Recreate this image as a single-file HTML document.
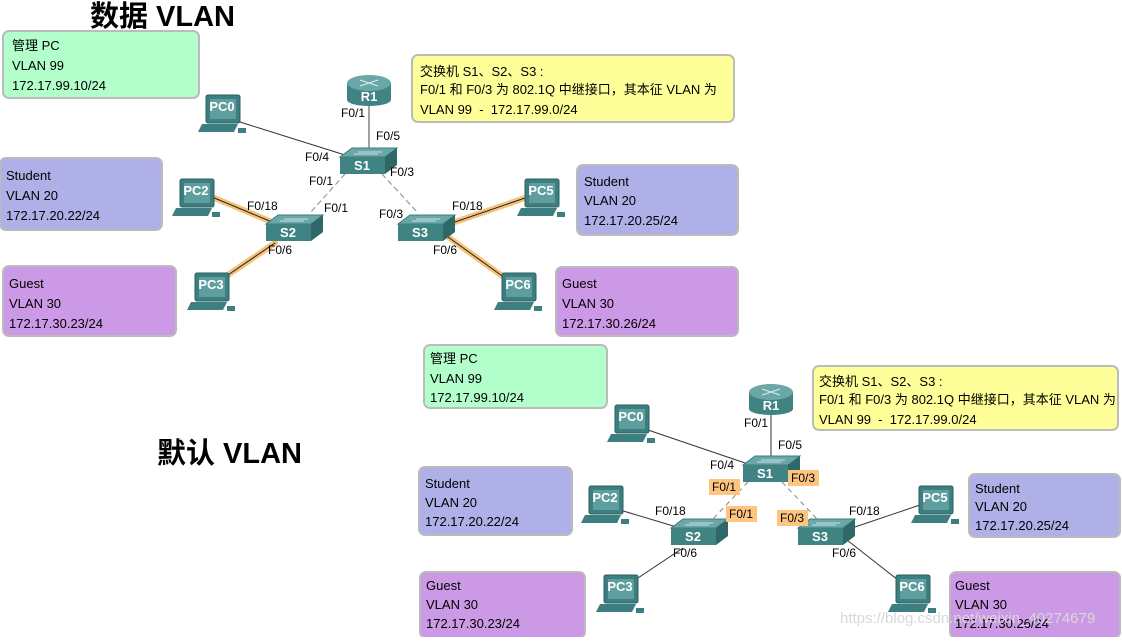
<!DOCTYPE html>
<html><head><meta charset="utf-8"><style>
body{margin:0;background:#fff;width:1122px;height:637px;overflow:hidden}
svg text{font-family:"Liberation Sans","Noto Sans CJK SC",sans-serif}
.b{font-size:13px;fill:#000}
.l{font-size:12px;fill:#000}
.d{font-size:13px;font-weight:bold;fill:#fff;text-anchor:middle}
.t{font-size:29px;font-weight:bold;fill:#000}
</style></head><body>
<svg width="1122" height="637" viewBox="0 0 1122 637" xmlns="http://www.w3.org/2000/svg">
<defs>
<g id="pc">
<rect x="-18" y="-15" width="34" height="28" rx="2" fill="#3d7f80" stroke="#2a5f60"/>
<rect x="-14" y="-11" width="26" height="20" fill="#5e9e9e"/>
<polygon points="-22,14 14,14 10,22 -26,22" fill="#3d7f80"/>
<rect x="14" y="18" width="8" height="5" fill="#3d7f80"/>
</g>
<g id="sw">
<polygon points="-24,-8 -12,-17 33,-17 21,-8" fill="#6aa7a6" stroke="#3f7c7c"/>
<rect x="-24" y="-8" width="45" height="17" fill="#3f8483"/>
<polygon points="21,-8 33,-17 33,0 21,9" fill="#2f6868"/>
<line x1="-6" y1="-13" x2="18" y2="-13" stroke="#cde" stroke-width="1"/>
<line x1="-10" y1="-11" x2="14" y2="-11" stroke="#cde" stroke-width="1"/>
</g>
<g id="r1">
<rect x="-22" y="-6" width="44" height="17" fill="#3f8483"/>
<ellipse cx="0" cy="11" rx="22" ry="6" fill="#3f8483"/>
<ellipse cx="0" cy="-6" rx="22" ry="8" fill="#6aa7a6"/>
<line x1="-9" y1="-9" x2="9" y2="-3" stroke="#dee"/><line x1="9" y1="-9" x2="-9" y2="-3" stroke="#dee"/>
</g>
</defs>

<!-- TOP DIAGRAM -->
<text x="90" y="26" class="t">数据 VLAN</text>
<rect x="3" y="31" width="196" height="67" rx="6" fill="#b3ffcc" stroke="#bbb" stroke-width="2"/>
<text x="12" y="50" class="b">管理 PC</text><text x="12" y="70" class="b">VLAN 99</text><text x="12" y="90" class="b">172.17.99.10/24</text>
<rect x="0" y="158" width="162" height="72" rx="6" fill="#b0b0e8" stroke="#bbb" stroke-width="2"/>
<text x="6" y="180" class="b">Student</text><text x="6" y="200" class="b">VLAN 20</text><text x="6" y="220" class="b">172.17.20.22/24</text>
<rect x="3" y="266" width="173" height="70" rx="6" fill="#cc99e6" stroke="#bbb" stroke-width="2"/>
<text x="9" y="288" class="b">Guest</text><text x="9" y="308" class="b">VLAN 30</text><text x="9" y="328" class="b">172.17.30.23/24</text>
<rect x="412" y="55" width="322" height="67" rx="6" fill="#ffff99" stroke="#bbb" stroke-width="2"/>
<text x="420" y="76" class="b">交换机 S1、S2、S3 :</text><text x="420" y="94" class="b">F0/1 和 F0/3 为 802.1Q 中继接口，其本征 VLAN 为</text><text x="420" y="114" class="b" xml:space="preserve">VLAN 99  -  172.17.99.0/24</text>
<rect x="577" y="165" width="161" height="70" rx="6" fill="#b0b0e8" stroke="#bbb" stroke-width="2"/>
<text x="584" y="186" class="b">Student</text><text x="584" y="205" class="b">VLAN 20</text><text x="584" y="225" class="b">172.17.20.25/24</text>
<rect x="556" y="267" width="182" height="69" rx="6" fill="#cc99e6" stroke="#bbb" stroke-width="2"/>
<text x="562" y="288" class="b">Guest</text><text x="562" y="308" class="b">VLAN 30</text><text x="562" y="328" class="b">172.17.30.26/24</text>

<g stroke-linecap="round">
<line x1="369" y1="102" x2="369" y2="148" stroke="#444"/>
<line x1="240" y1="122" x2="345" y2="155" stroke="#333"/>
<line x1="345" y1="174" x2="310" y2="213" stroke="#888" stroke-dasharray="5,4"/>
<line x1="382" y1="174" x2="418" y2="213" stroke="#888" stroke-dasharray="5,4"/>
<g stroke="#f5c27a" stroke-width="6">
<line x1="212" y1="197" x2="272" y2="222"/><line x1="275" y1="243" x2="225" y2="277"/>
<line x1="455" y1="222" x2="525" y2="198"/><line x1="448" y1="237" x2="505" y2="278"/></g>
<g stroke="#222" stroke-width="1">
<line x1="212" y1="197" x2="272" y2="222"/><line x1="275" y1="243" x2="225" y2="277"/>
<line x1="455" y1="222" x2="525" y2="198"/><line x1="448" y1="237" x2="505" y2="278"/></g>
</g>
<use href="#r1" x="369" y="89"/><text x="369" y="101" class="d">R1</text>
<use href="#sw" x="364" y="165"/><text x="362" y="170" class="d">S1</text>
<use href="#sw" x="290" y="232"/><text x="288" y="237" class="d">S2</text>
<use href="#sw" x="422" y="232"/><text x="420" y="237" class="d">S3</text>
<use href="#pc" x="224" y="110"/><text x="222" y="111" class="d">PC0</text>
<use href="#pc" x="198" y="194"/><text x="196" y="195" class="d">PC2</text>
<use href="#pc" x="213" y="288"/><text x="211" y="289" class="d">PC3</text>
<use href="#pc" x="543" y="194"/><text x="541" y="195" class="d">PC5</text>
<use href="#pc" x="520" y="288"/><text x="518" y="289" class="d">PC6</text>
<text x="341" y="117" class="l">F0/1</text><text x="376" y="140" class="l">F0/5</text>
<text x="305" y="161" class="l">F0/4</text><text x="390" y="176" class="l">F0/3</text>
<text x="309" y="185" class="l">F0/1</text><text x="247" y="210" class="l">F0/18</text>
<text x="324" y="212" class="l">F0/1</text><text x="268" y="254" class="l">F0/6</text>
<text x="379" y="218" class="l">F0/3</text><text x="452" y="210" class="l">F0/18</text>
<text x="433" y="254" class="l">F0/6</text>

<!-- BOTTOM DIAGRAM -->
<text x="157" y="463" class="t">默认 VLAN</text>
<rect x="424" y="345" width="183" height="63" rx="6" fill="#b3ffcc" stroke="#bbb" stroke-width="2"/>
<text x="430" y="363" class="b">管理 PC</text><text x="430" y="383" class="b">VLAN 99</text><text x="430" y="402" class="b">172.17.99.10/24</text>
<rect x="419" y="467" width="153" height="68" rx="6" fill="#b0b0e8" stroke="#bbb" stroke-width="2"/>
<text x="425" y="488" class="b">Student</text><text x="425" y="507" class="b">VLAN 20</text><text x="425" y="526" class="b">172.17.20.22/24</text>
<rect x="420" y="572" width="165" height="66" rx="6" fill="#cc99e6" stroke="#bbb" stroke-width="2"/>
<text x="426" y="590" class="b">Guest</text><text x="426" y="609" class="b">VLAN 30</text><text x="426" y="628" class="b">172.17.30.23/24</text>
<rect x="813" y="366" width="305" height="64" rx="6" fill="#ffff99" stroke="#bbb" stroke-width="2"/>
<text x="819" y="386" class="b">交换机 S1、S2、S3 :</text><text x="819" y="404" class="b">F0/1 和 F0/3 为 802.1Q 中继接口，其本征 VLAN 为</text><text x="819" y="424" class="b" xml:space="preserve">VLAN 99  -  172.17.99.0/24</text>
<rect x="969" y="474" width="151" height="63" rx="6" fill="#b0b0e8" stroke="#bbb" stroke-width="2"/>
<text x="975" y="493" class="b">Student</text><text x="975" y="511" class="b">VLAN 20</text><text x="975" y="530" class="b">172.17.20.25/24</text>
<rect x="950" y="572" width="170" height="66" rx="6" fill="#cc99e6" stroke="#bbb" stroke-width="2"/>
<text x="955" y="590" class="b">Guest</text><text x="955" y="609" class="b">VLAN 30</text><text x="955" y="628" class="b">172.17.30.26/24</text>

<g stroke="#333">
<line x1="771" y1="414" x2="771" y2="456"/>
<line x1="648" y1="430" x2="748" y2="464"/>
<line x1="620" y1="510" x2="680" y2="528"/><line x1="683" y1="548" x2="635" y2="580"/>
<line x1="852" y1="528" x2="920" y2="505"/><line x1="847" y1="540" x2="898" y2="580"/>
</g>
<line x1="748" y1="482" x2="712" y2="520" stroke="#888" stroke-dasharray="5,4"/>
<line x1="782" y1="482" x2="818" y2="520" stroke="#888" stroke-dasharray="5,4"/>
<use href="#r1" x="771" y="398"/><text x="771" y="410" class="d">R1</text>
<use href="#sw" x="767" y="473"/><text x="765" y="478" class="d">S1</text>
<use href="#sw" x="695" y="536"/><text x="693" y="541" class="d">S2</text>
<use href="#sw" x="822" y="536"/><text x="820" y="541" class="d">S3</text>
<use href="#pc" x="633" y="420"/><text x="631" y="421" class="d">PC0</text>
<use href="#pc" x="607" y="501"/><text x="605" y="502" class="d">PC2</text>
<use href="#pc" x="622" y="590"/><text x="620" y="591" class="d">PC3</text>
<use href="#pc" x="937" y="501"/><text x="935" y="502" class="d">PC5</text>
<use href="#pc" x="914" y="590"/><text x="912" y="591" class="d">PC6</text>
<g fill="#fdc57f">
<rect x="709" y="479" width="31" height="16"/><rect x="788" y="470" width="31" height="16"/>
<rect x="726" y="506" width="31" height="16"/><rect x="777" y="510" width="31" height="16"/></g>
<text x="744" y="427" class="l">F0/1</text><text x="778" y="449" class="l">F0/5</text>
<text x="710" y="469" class="l">F0/4</text><text x="712" y="491" class="l">F0/1</text>
<text x="791" y="482" class="l">F0/3</text><text x="655" y="515" class="l">F0/18</text>
<text x="729" y="518" class="l">F0/1</text><text x="780" y="522" class="l">F0/3</text>
<text x="849" y="515" class="l">F0/18</text><text x="673" y="557" class="l">F0/6</text>
<text x="832" y="557" class="l">F0/6</text>
<text x="840" y="623" style="font-size:15px;fill:#d8d8d8">https://blog.csdn.net/weixin_40274679</text>
</svg>
</body></html>
